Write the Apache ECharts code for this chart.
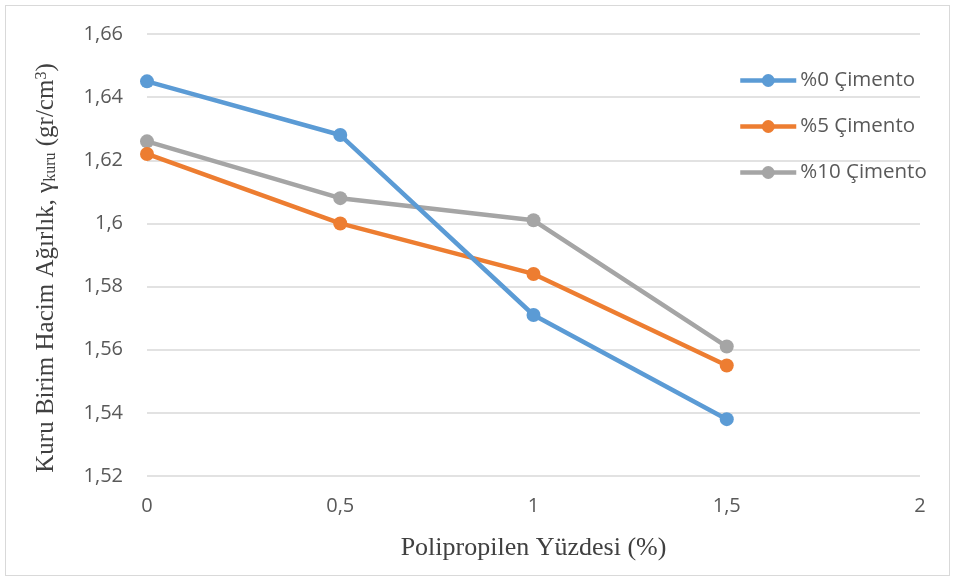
<!DOCTYPE html>
<html>
<head>
<meta charset="utf-8">
<script src="https://cdn.jsdelivr.net/npm/echarts@6/dist/echarts.min.js"></script>
<style>
  html, body { margin: 0; padding: 0; background: #fff; }
  #chart { position: absolute; left: 5px; top: 5px; width: 945px; height: 571px; border: 1px solid #d9d9d9; box-sizing: border-box; }
</style>
</head>
<body>
<div id="chart"></div>
<script>
// Polypropylene content (%)
const polipropilen = [0, 0.5, 1, 1.5];
// Dry unit weight (gr/cm3) per cement ratio
const cimento0 = [1.645, 1.628, 1.571, 1.538];
const cimento5 = [1.622, 1.600, 1.584, 1.555];
const cimento10 = [1.626, 1.608, 1.601, 1.561];
const seriesNames = ['%0 Çimento', '%5 Çimento', '%10 Çimento'];
const seriesColors = ['#5B9BD5', '#ED7D31', '#A5A5A5'];

const chart = echarts.init(document.getElementById('chart'), null, { renderer: 'canvas' });

const commaFmt = v => String(Number(v.toFixed(2))).replace('.', ',');
const pairs = ys => polipropilen.map((x, i) => [x, ys[i]]);

const labelFont = { fontFamily: 'Open Sans, Noto Sans, sans-serif', fontSize: 20, color: '#595959' };
const serif = 'Liberation Serif, Times New Roman, serif';

chart.setOption({
  animation: false,
  grid: { left: 141, right: 29, top: 28, bottom: 99, containLabel: false },
  legend: {
    orient: 'vertical',
    left: 732,
    top: 64,
    padding: 0,
    itemWidth: 56,
    itemHeight: 16,
    itemGap: 25,
    lineStyle: { width: 4.5 },
    textStyle: { fontFamily: 'Open Sans, Noto Sans, sans-serif', fontSize: 20.5, color: '#595959', padding: [0, 0, 0, -1] },
    data: seriesNames
  },
  xAxis: {
    type: 'value',
    min: 0, max: 2, interval: 0.5,
    name: 'Polipropilen Yüzdesi (%)',
    nameLocation: 'middle',
    nameGap: 59,
    nameTextStyle: { fontFamily: serif, fontSize: 26, color: '#404040' },
    axisLine: { show: false },
    axisTick: { show: false },
    splitLine: { show: false },
    axisLabel: Object.assign({ margin: 20, formatter: commaFmt }, labelFont)
  },
  yAxis: {
    type: 'value',
    min: 1.52, max: 1.66, interval: 0.02,
    name: 'Kuru Birim Hacim Ağırlık, γ{sub|kuru} (gr/cm{sup|3})',
    nameLocation: 'middle',
    nameGap: 88,
    nameTextStyle: {
      fontFamily: serif, fontSize: 25, color: '#404040',
      padding: [0, 26, 0, 0],
      rich: {
        sub: { fontFamily: serif, fontSize: 16, color: '#404040', verticalAlign: 'bottom', padding: [9, 0, 0, 0] },
        sup: { fontFamily: serif, fontSize: 16, color: '#404040', verticalAlign: 'top', padding: [0, 0, 9, 0] }
      }
    },
    axisLine: { show: false },
    axisTick: { show: false },
    splitLine: { lineStyle: { color: '#d9d9d9', width: 1.5 } },
    axisLabel: Object.assign({ margin: 24, formatter: commaFmt }, labelFont)
  },
  series: [cimento0, cimento5, cimento10].map((ys, i) => ({
    name: seriesNames[i],
    type: 'line',
    data: pairs(ys),
    symbol: 'circle',
    symbolSize: 14,
    color: seriesColors[i],
    lineStyle: { width: 4.5, color: seriesColors[i] },
    itemStyle: { color: seriesColors[i] }
  })).reverse()
});
</script>
</body>
</html>
